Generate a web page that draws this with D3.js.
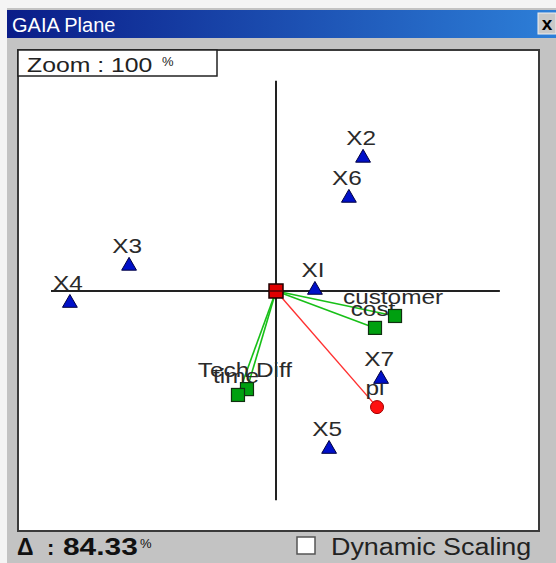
<!DOCTYPE html>
<html>
<head>
<meta charset="utf-8">
<script src="https://cdn.jsdelivr.net/npm/d3@7"></script>
<style>
body { margin: 0; background: #f4f4f4; }
text { font-family: "Liberation Sans", Arial, sans-serif; }
</style>
</head>
<body>
<script>
// gaia plane ........

// alternatives (blue triangles), plane coordinates
var altNames = ["X2", "X6", "X3", "X4", "XI", "X7", "X5"];
var altU = [0.387, 0.324, -0.653, -0.916, 0.173, 0.467, 0.236];
var altV = [0.596, 0.418, 0.116, -0.049, 0.009, -0.387, -0.698];

// criteria (green squares)
var critNames = ["customer", "cost", "Tech Diff", "time"];
var critU = [0.529, 0.440, -0.129, -0.169];
var critV = [-0.111, -0.164, -0.436, -0.462];

// decision stick pi (red circle)
var piName = "pi";
var piU = [0.449];
var piV = [-0.516];

// extent of the two axes
var axisU = [-1, 0.995];
var axisV = [-0.93, 0.935];

var zoomPct = "100";
var deltaPct = "84.33";

var W = 556, H = 563;
var svg = d3.select("body").append("svg")
	.attr("width", W)
	.attr("height", H);

// window chrome
svg.append("rect").attr("x", 7).attr("y", 8).attr("width", W - 7).attr("height", H - 8)
	.attr("fill", "#c3c3c3");

var grad = svg.append("defs").append("linearGradient").attr("id", "tb");
grad.append("stop").attr("offset", "0%").attr("stop-color", "#0a1c88");
grad.append("stop").attr("offset", "100%").attr("stop-color", "#2d7fd8");
svg.append("rect").attr("x", 7).attr("y", 10).attr("width", W - 7).attr("height", 28)
	.attr("fill", "url(#tb)");
svg.append("text").attr("x", 12).attr("y", 32)
	.attr("fill", "#fff").attr("font-size", 20)
	.text("GAIA Plane");

// close button
svg.append("rect").attr("x", 538).attr("y", 13).attr("width", 18).attr("height", 21)
	.attr("fill", "#c8c8c8").attr("stroke", "#f0f0f0");
svg.append("text").attr("x", 547).attr("y", 30)
	.attr("text-anchor", "middle").attr("font-size", 19).attr("font-weight", "bold")
	.attr("fill", "#000").text("x");

// plot area
svg.append("rect").attr("x", 18).attr("y", 50).attr("width", 521).attr("height", 481)
	.attr("fill", "#fff").attr("stroke", "#3a3a3a").attr("stroke-width", 2);

var x = d3.scaleLinear().domain([-1, 1]).range([51, 501]);
var y = d3.scaleLinear().domain([-1, 1]).range([516, 66]);

var plot = svg.append("g").attr("id", "plane");

plot.append("line")
	.attr("x1", x(axisU[0])).attr("x2", x(axisU[1]))
	.attr("y1", y(0)).attr("y2", y(0))
	.attr("stroke", "#222").attr("stroke-width", 2);
plot.append("line")
	.attr("x1", x(0)).attr("x2", x(0))
	.attr("y1", y(axisV[1])).attr("y2", y(axisV[0]))
	.attr("stroke", "#222").attr("stroke-width", 2);

// criteria sticks
critU.forEach(function (u, i) {
	plot.append("line")
		.attr("x1", x(0)).attr("y1", y(0))
		.attr("x2", x(u)).attr("y2", y(critV[i]))
		.attr("stroke", "#18c018").attr("stroke-width", 1.6);
});
plot.append("line")
	.attr("x1", x(0)).attr("y1", y(0))
	.attr("x2", x(piU[0])).attr("y2", y(piV[0]))
	.attr("stroke", "#ff3030").attr("stroke-width", 1.4);

// labels go first, markers on top
function label(name, u, v) {
	plot.append("text")
		.attr("transform", "translate(" + (x(u) - 2) + "," + (y(v) - 12) + ") scale(1.16,1)")
		.attr("text-anchor", "middle")
		.attr("font-size", 21)
		.attr("fill", "#2a2a2a")
		.text(name);
}
altNames.forEach(function (n, i) { label(n, altU[i], altV[i]); });
critNames.forEach(function (n, i) { label(n, critU[i], critV[i]); });
label(piName, piU[0], piV[0]);

var tri = d3.symbol().type(d3.symbolTriangle).size(95);
altNames.forEach(function (n, i) {
	plot.append("path")
		.attr("d", tri)
		.attr("transform", "translate(" + x(altU[i]) + "," + (y(altV[i]) + 1) + ")")
		.attr("fill", "#0010c8").attr("stroke", "#000040").attr("stroke-width", 1);
});

critNames.forEach(function (n, i) {
	plot.append("rect")
		.attr("x", x(critU[i]) - 6.5).attr("y", y(critV[i]) - 6.5)
		.attr("width", 13).attr("height", 13)
		.attr("fill", "#00a010").attr("stroke", "#103010").attr("stroke-width", 1.2);
});

plot.append("circle")
	.attr("cx", x(piU[0])).attr("cy", y(piV[0])).attr("r", 6.5)
	.attr("fill", "#ff1010").attr("stroke", "#a00000").attr("stroke-width", 1);

// origin
plot.append("rect")
	.attr("x", x(0) - 7).attr("y", y(0) - 7).attr("width", 14).attr("height", 14)
	.attr("fill", "#e00000").attr("stroke", "#200000").attr("stroke-width", 1.5);
plot.append("line")
	.attr("x1", x(0) - 7).attr("x2", x(0) + 7).attr("y1", y(0)).attr("y2", y(0))
	.attr("stroke", "#500000").attr("stroke-width", 1.5);

// zoom box
svg.append("rect").attr("x", 18).attr("y", 50).attr("width", 199).attr("height", 26)
	.attr("fill", "#fff").attr("stroke", "#222").attr("stroke-width", 1.5);
svg.append("text")
	.attr("transform", "translate(27,72) scale(1.18,1)")
	.attr("font-size", 21).attr("fill", "#222")
	.text("Zoom : " + zoomPct);
svg.append("text").attr("x", 162).attr("y", 66)
	.attr("font-size", 13).attr("fill", "#222").text("%");

// bottom status
svg.append("text").attr("x", 17).attr("y", 555)
	.attr("font-family", "Liberation Serif, serif")
	.attr("font-size", 23).attr("font-weight", "bold").attr("fill", "#111")
	.text("\u0394");
svg.append("text").attr("x", 47).attr("y", 555)
	.attr("font-size", 22).attr("font-weight", "bold").attr("fill", "#111")
	.text(":");
svg.append("text")
	.attr("transform", "translate(63,555) scale(1.3,1)")
	.attr("font-size", 23).attr("font-weight", "bold").attr("fill", "#111")
	.text(deltaPct);
svg.append("text").attr("x", 140).attr("y", 548)
	.attr("font-size", 13).attr("fill", "#111").text("%");

// checkbox
svg.append("rect").attr("x", 297).attr("y", 537).attr("width", 18).attr("height", 17)
	.attr("fill", "#fff").attr("stroke", "#555").attr("stroke-width", 1.5);
svg.append("text")
	.attr("transform", "translate(331,555) scale(1.17,1)")
	.attr("font-size", 23).attr("fill", "#222")
	.text("Dynamic Scaling");
</script>
</body>
</html>
